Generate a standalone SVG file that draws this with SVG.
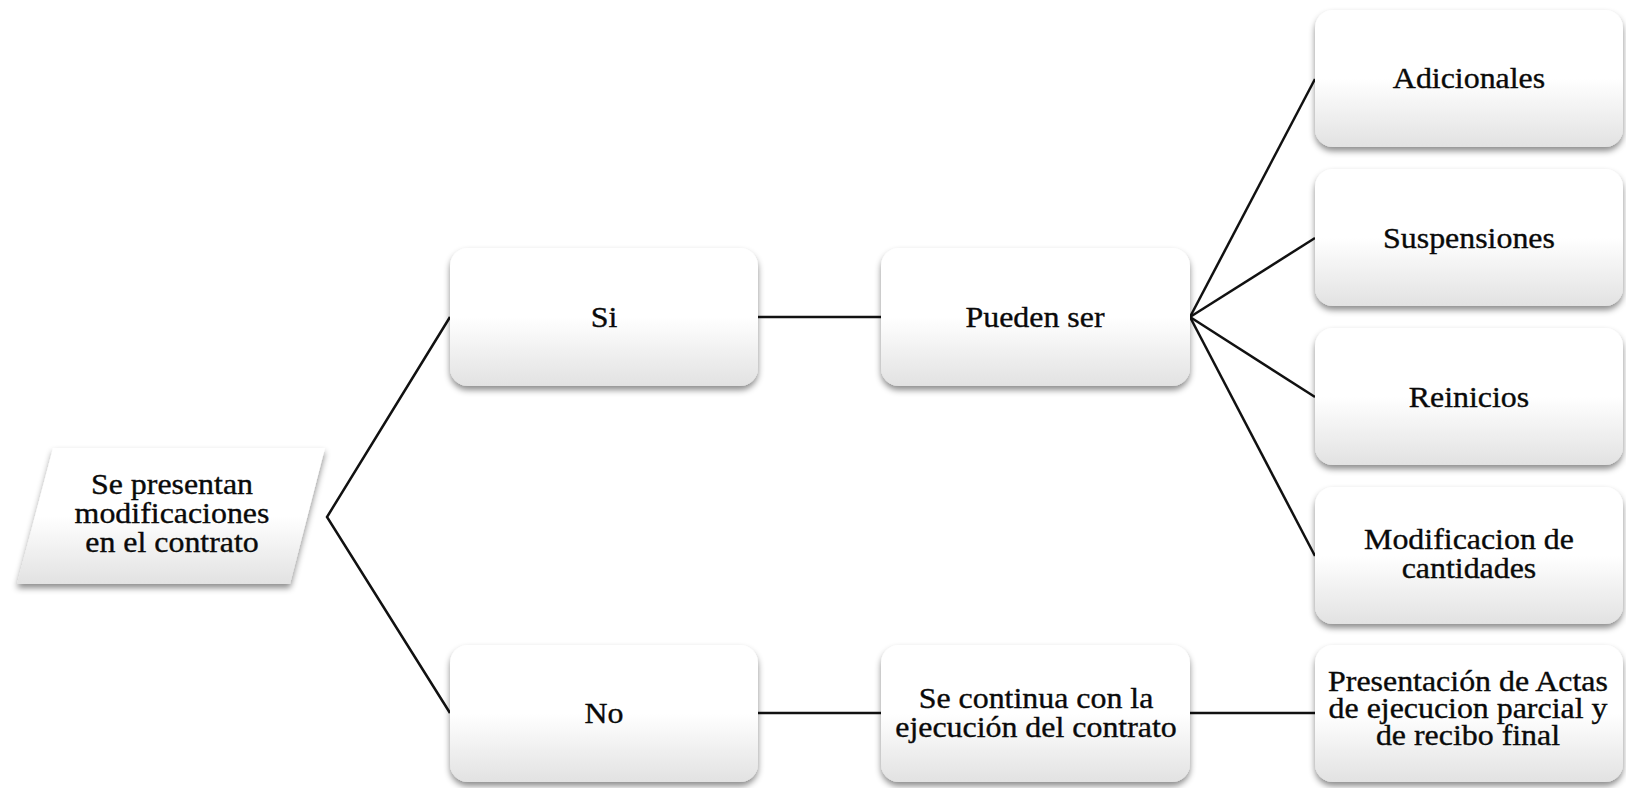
<svg xmlns="http://www.w3.org/2000/svg" width="1626" height="788" viewBox="0 0 1626 788">
  <defs>
    <linearGradient id="fill" x1="0" y1="0" x2="0" y2="1">
      <stop offset="0" stop-color="#ffffff"/>
      <stop offset="0.5" stop-color="#ffffff"/>
      <stop offset="1" stop-color="#e2e2e2"/>
    </linearGradient>
    <filter id="shadow" x="-10%" y="-10%" width="120%" height="130%">
      <feDropShadow dx="0" dy="4" stdDeviation="3" flood-color="#000" flood-opacity="0.45"/>
    </filter>
  </defs>
  <style>
    .box { fill: url(#fill); filter: url(#shadow); }
    .lbl { font-size: 29px; fill: #0a0a0a; stroke: #0a0a0a; stroke-width: 0.35; text-anchor: middle; }
    .conn { stroke: #111; stroke-width: 2.5; fill: none; stroke-linejoin: miter; }
  </style>
  <rect width="1626" height="788" fill="#ffffff"/>

  <g id="connectors">
    <polyline class="conn" points="450,317 327,517 450,713"/>
    <line class="conn" x1="758" y1="317" x2="881" y2="317"/>
    <line class="conn" x1="1190" y1="317" x2="1315" y2="79"/>
    <line class="conn" x1="1190" y1="317" x2="1315" y2="238"/>
    <line class="conn" x1="1190" y1="317" x2="1315" y2="397"/>
    <line class="conn" x1="1190" y1="317" x2="1315" y2="556"/>
    <line class="conn" x1="758" y1="713" x2="881" y2="713"/>
    <line class="conn" x1="1190" y1="713" x2="1315" y2="713"/>
  </g>

  <g font-family="Liberation Serif, Times New Roman, serif">
  <g id="node-inicio">
    <polygon class="box" points="53,448 325,448 290,584 17,584"/>
    <g transform="translate(172,0) scale(1.1,1)">
      <text class="lbl" x="0" y="494">Se presentan</text>
      <text class="lbl" x="0" y="523">modificaciones</text>
      <text class="lbl" x="0" y="552">en el contrato</text>
    </g>
  </g>

  <g id="node-si">
    <rect class="box" x="450" y="248" width="308" height="138" rx="18"/>
    <g transform="translate(604,0) scale(1.1,1)"><text class="lbl" x="0" y="327">Si</text></g>
  </g>

  <g id="node-pueden">
    <rect class="box" x="881" y="248" width="309" height="138" rx="18"/>
    <g transform="translate(1035,0) scale(1.1,1)"><text class="lbl" x="0" y="327">Pueden ser</text></g>
  </g>

  <g id="node-adicionales">
    <rect class="box" x="1315" y="10" width="308" height="137" rx="18"/>
    <g transform="translate(1469,0) scale(1.1,1)"><text class="lbl" x="0" y="88">Adicionales</text></g>
  </g>

  <g id="node-suspensiones">
    <rect class="box" x="1315" y="169" width="308" height="137" rx="18"/>
    <g transform="translate(1469,0) scale(1.1,1)"><text class="lbl" x="0" y="248">Suspensiones</text></g>
  </g>

  <g id="node-reinicios">
    <rect class="box" x="1315" y="328" width="308" height="137" rx="18"/>
    <g transform="translate(1469,0) scale(1.1,1)"><text class="lbl" x="0" y="407">Reinicios</text></g>
  </g>

  <g id="node-modificacion">
    <rect class="box" x="1315" y="487" width="308" height="137" rx="18"/>
    <g transform="translate(1469,0) scale(1.1,1)">
      <text class="lbl" x="0" y="549">Modificacion de</text>
      <text class="lbl" x="0" y="578">cantidades</text>
    </g>
  </g>

  <g id="node-no">
    <rect class="box" x="450" y="645" width="308" height="137" rx="18"/>
    <g transform="translate(604,0) scale(1.1,1)"><text class="lbl" x="0" y="723">No</text></g>
  </g>

  <g id="node-continua">
    <rect class="box" x="881" y="645" width="309" height="137" rx="18"/>
    <g transform="translate(1036,0) scale(1.1,1)">
      <text class="lbl" x="0" y="708">Se continua con la</text>
      <text class="lbl" x="0" y="737">ejecución del contrato</text>
    </g>
  </g>

  <g id="node-presentacion">
    <rect class="box" x="1315" y="645" width="308" height="137" rx="18"/>
    <g transform="translate(1468,0) scale(1.1,1)">
      <text class="lbl" x="0" y="691">Presentación de Actas</text>
      <text class="lbl" x="0" y="718">de ejecucion parcial y</text>
      <text class="lbl" x="0" y="745">de recibo final</text>
    </g>
  </g>
  </g>
</svg>
